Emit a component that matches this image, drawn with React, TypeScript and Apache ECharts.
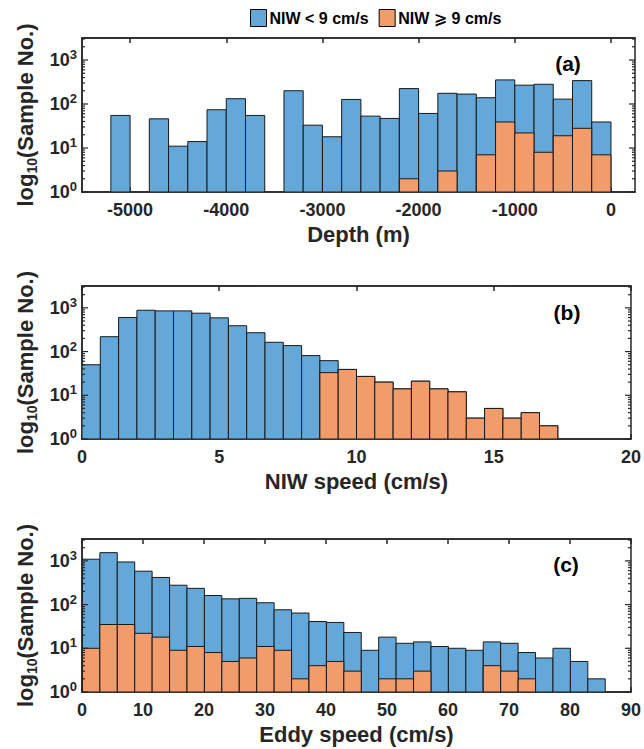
import React, { useEffect, useRef } from 'react';
import * as echarts from 'echarts';

// ---------- data (counts per bin) ----------
const depthBinStart = -5200;
const depthBinWidth = 200;
const depthAll = [55, 0, 46, 11, 14, 74, 132, 55, 0, 200, 33, 18, 127, 53, 47, 224, 61, 175, 168, 139, 353, 268, 281, 129, 340, 39];
const depthHigh = [0, 0, 0, 0, 0, 0, 0, 0, 0, 0, 0, 0, 0, 0, 0, 2, 0, 3, 0, 7, 39, 22, 8, 19, 28, 7];

const niwBinStart = 0;
const niwBinWidth = 2 / 3;
const niwAll = [50, 219, 603, 881, 853, 853, 755, 590, 390, 270, 163, 137, 81, 62, 39, 27, 20, 14, 21, 14, 12, 3, 5, 3, 4, 2];
const niwHigh = [0, 0, 0, 0, 0, 0, 0, 0, 0, 0, 0, 0, 0, 33, 39, 27, 20, 14, 21, 14, 12, 3, 5, 3, 4, 2];

const eddyBinStart = 0.07;
const eddyBinWidth = 2.857;
const eddyAll = [1090, 1540, 944, 580, 417, 277, 235, 161, 135, 139, 110, 76, 64, 41, 39, 23, 9, 18, 13, 14, 11, 10, 9, 14, 13, 8, 6, 10, 5, 2];
const eddyHigh = [10, 35, 35, 22, 18, 9, 11, 8, 5, 6, 11, 9, 2, 4, 5, 3, 0, 2, 2, 3, 0, 0, 0, 4, 3, 2, 0, 0, 0, 0];

const depthTicks = [-5000, -4000, -3000, -2000, -1000, 0];
const niwTicks = [0, 5, 10, 15, 20];
const eddyTicks = [0, 10, 20, 30, 40, 50, 60, 70, 80, 90];
const yMajorTicks = [1, 10, 100, 1000];
const yMinorTicks = [2, 3, 4, 5, 6, 7, 8, 9, 20, 30, 40, 50, 60, 70, 80, 90, 200, 300, 400, 500, 600, 700, 800, 900, 2000, 3000];

const legendLow = 'NIW < 9 cm/s';
const legendHigh = 'NIW \u2A7E 9 cm/s';
const xNames = ['Depth (m)', 'NIW speed (cm/s)', 'Eddy speed (cm/s)'];
const panelLabels = ['(a)', '(b)', '(c)'];

// ---------- style ----------
const FONT = "'Liberation Sans', Arial, 'DejaVu Sans', sans-serif";
const AX = '#262626';
const BLUE = '#63A8D9';
const ORANGE = '#F29C6B';
const EDGE = '#1a1a1a';

function binData(start: number, width: number, counts: number[]) {
  const out: number[][] = [];
  counts.forEach((c, i) => {
    if (c > 0) out.push([start + i * width, start + (i + 1) * width, c]);
  });
  return out;
}

const barRenderer = (color: string) => (params: any, api: any) => {
  const c = api.value(2);
  if (!(c > 0)) return null;
  const p0 = api.coord([api.value(0), c]);
  const p1 = api.coord([api.value(1), 1]);
  return {
    type: 'rect',
    shape: { x: p0[0], y: p0[1], width: p1[0] - p0[0], height: p1[1] - p0[1] },
    style: { fill: color, stroke: EDGE, lineWidth: 1 },
  };
};

const tickRenderer = (params: any, api: any) => {
  const cs = params.coordSys;
  const y = api.coord([api.value(0), api.value(1)])[1];
  const len = api.value(2);
  return {
    type: 'group',
    children: [
      { type: 'line', shape: { x1: cs.x, y1: y, x2: cs.x + len, y2: y }, style: { stroke: AX, lineWidth: 1.2 } },
      { type: 'line', shape: { x1: cs.x + cs.width - len, y1: y, x2: cs.x + cs.width, y2: y }, style: { stroke: AX, lineWidth: 1.2 } },
    ],
  };
};

export default function App() {
  const ref = useRef<HTMLDivElement>(null);

  useEffect(() => {
    if (!ref.current) return;
    const chart = echarts.init(ref.current, undefined, { renderer: 'svg' });

    const grids = [
      { left: 82, top: 38, width: 553, height: 154 },
      { left: 82, top: 286, width: 553, height: 153 },
      { left: 82, top: 539, width: 553, height: 153 },
    ];
    const xRanges = [
      { min: -5500, max: 250, ticks: depthTicks },
      { min: 0, max: 20, ticks: niwTicks },
      { min: 0, max: 90, ticks: eddyTicks },
    ];
    const allSets = [
      [depthBinStart, depthBinWidth, depthAll, depthHigh],
      [niwBinStart, niwBinWidth, niwAll, niwHigh],
      [eddyBinStart, eddyBinWidth, eddyAll, eddyHigh],
    ] as any[];

    const xAxes: any[] = [];
    const yAxes: any[] = [];
    const series: any[] = [];

    grids.forEach((g, i) => {
      const r = xRanges[i];
      xAxes.push({
        type: 'value',
        gridIndex: i,
        min: r.min,
        max: r.max,
        position: 'bottom',
        name: xNames[i],
        nameLocation: 'middle',
        nameGap: 31,
        nameTextStyle: { fontFamily: FONT, fontSize: 22, fontWeight: 'bold', color: AX },
        axisLine: { show: true, onZero: false, lineStyle: { color: AX, width: 1.5 } },
        axisTick: { show: true, inside: true, length: 5, customValues: r.ticks, lineStyle: { color: AX, width: 1.5 } },
        axisLabel: {
          show: true, customValues: r.ticks, margin: 9, fontFamily: FONT, fontSize: 18, fontWeight: 'bold', color: AX,
          formatter: (v: number) => String(Math.round(v)),
        },
        splitLine: { show: false },
      });
      xAxes.push({
        type: 'value',
        gridIndex: i,
        min: r.min,
        max: r.max,
        position: 'top',
        axisLine: { show: true, onZero: false, lineStyle: { color: AX, width: 1.5 } },
        axisTick: { show: true, inside: true, length: 5, customValues: r.ticks, lineStyle: { color: AX, width: 1.5 } },
        axisLabel: { show: false },
        splitLine: { show: false },
      });
      yAxes.push({
        type: 'log',
        logBase: 10,
        gridIndex: i,
        min: 1,
        max: Math.pow(10, 3.5),
        position: 'left',
        name: 'log{s|10}(Sample No.)',
        nameLocation: 'middle',
        nameGap: 42,
        nameTextStyle: {
          fontFamily: FONT, fontSize: 22, fontWeight: 'bold', color: AX, lineHeight: 26,
          rich: { s: { fontFamily: FONT, fontSize: 14, fontWeight: 'bold', color: AX, lineHeight: 14, verticalAlign: 'bottom' } },
        },
        axisLine: { show: true, onZero: false, lineStyle: { color: AX, width: 1.5 } },
        axisTick: { show: false },
        splitLine: { show: false },
        axisLabel: {
          margin: 5,
          fontFamily: FONT, fontSize: 18, fontWeight: 'bold', color: AX,
          formatter: (v: number) => {
            const e = Math.log10(v);
            if (Math.abs(e - Math.round(e)) > 1e-6) return '';
            return '{b|10}{s|' + Math.round(e) + '}';
          },
          rich: {
            b: { fontFamily: FONT, fontSize: 18, fontWeight: 'bold', color: AX, lineHeight: 24 },
            s: { fontFamily: FONT, fontSize: 13, fontWeight: 'bold', color: AX, lineHeight: 13, verticalAlign: 'top' },
          },
        },
      });

      const [start, width, all, high] = allSets[i];
      series.push({
        type: 'custom',
        name: legendLow,
        xAxisIndex: 2 * i,
        yAxisIndex: i,
        itemStyle: { color: BLUE, borderColor: EDGE, borderWidth: 1 },
        renderItem: barRenderer(BLUE),
        encode: { x: [0, 1], y: 2 },
        data: binData(start, width, all),
        clip: true,
      });
      series.push({
        type: 'custom',
        name: legendHigh,
        xAxisIndex: 2 * i,
        yAxisIndex: i,
        itemStyle: { color: ORANGE, borderColor: EDGE, borderWidth: 1 },
        renderItem: barRenderer(ORANGE),
        encode: { x: [0, 1], y: 2 },
        data: binData(start, width, high),
        clip: true,
      });
      const xm = (r.min + r.max) / 2;
      series.push({
        type: 'custom',
        xAxisIndex: 2 * i,
        yAxisIndex: i,
        silent: true,
        renderItem: tickRenderer,
        encode: { x: 0, y: 1 },
        data: [
          ...yMajorTicks.map((v) => [xm, v, 6]),
          ...yMinorTicks.map((v) => [xm, v, 3]),
        ],
      });
    });

    const labelPos = [
      { x: 568, y: 63 },
      { x: 567, y: 312 },
      { x: 566, y: 564 },
    ];

    chart.setOption({
      animation: false,
      backgroundColor: '#ffffff',
      grid: grids.map((g) => ({ ...g, show: true, borderColor: AX, borderWidth: 1.5, backgroundColor: 'transparent' })),
      xAxis: xAxes,
      yAxis: yAxes,
      legend: {
        data: [legendLow, legendHigh],
        left: 250,
        top: 9,
        padding: 0,
        itemWidth: 16,
        itemHeight: 17,
        itemGap: 10,
        icon: 'rect',
        itemStyle: { borderColor: '#000', borderWidth: 1 },
        textStyle: { fontFamily: FONT, fontSize: 16, fontWeight: 'bold', color: '#000', padding: [0, 0, 0, -2] },
        selectedMode: false,
      },
      graphic: panelLabels.map((t, i) => ({
        type: 'text',
        x: labelPos[i].x,
        y: labelPos[i].y,
        style: {
          text: t,
          font: `bold 21px ${FONT}`,
          fill: '#000',
          textAlign: 'center',
          textVerticalAlign: 'middle',
          verticalAlign: 'middle',
        },
      })),
      series,
    });

    return () => chart.dispose();
  }, []);

  return <div ref={ref} style={{ position: 'absolute', left: 0, top: 0, width: 644, height: 749 }} />;
}
